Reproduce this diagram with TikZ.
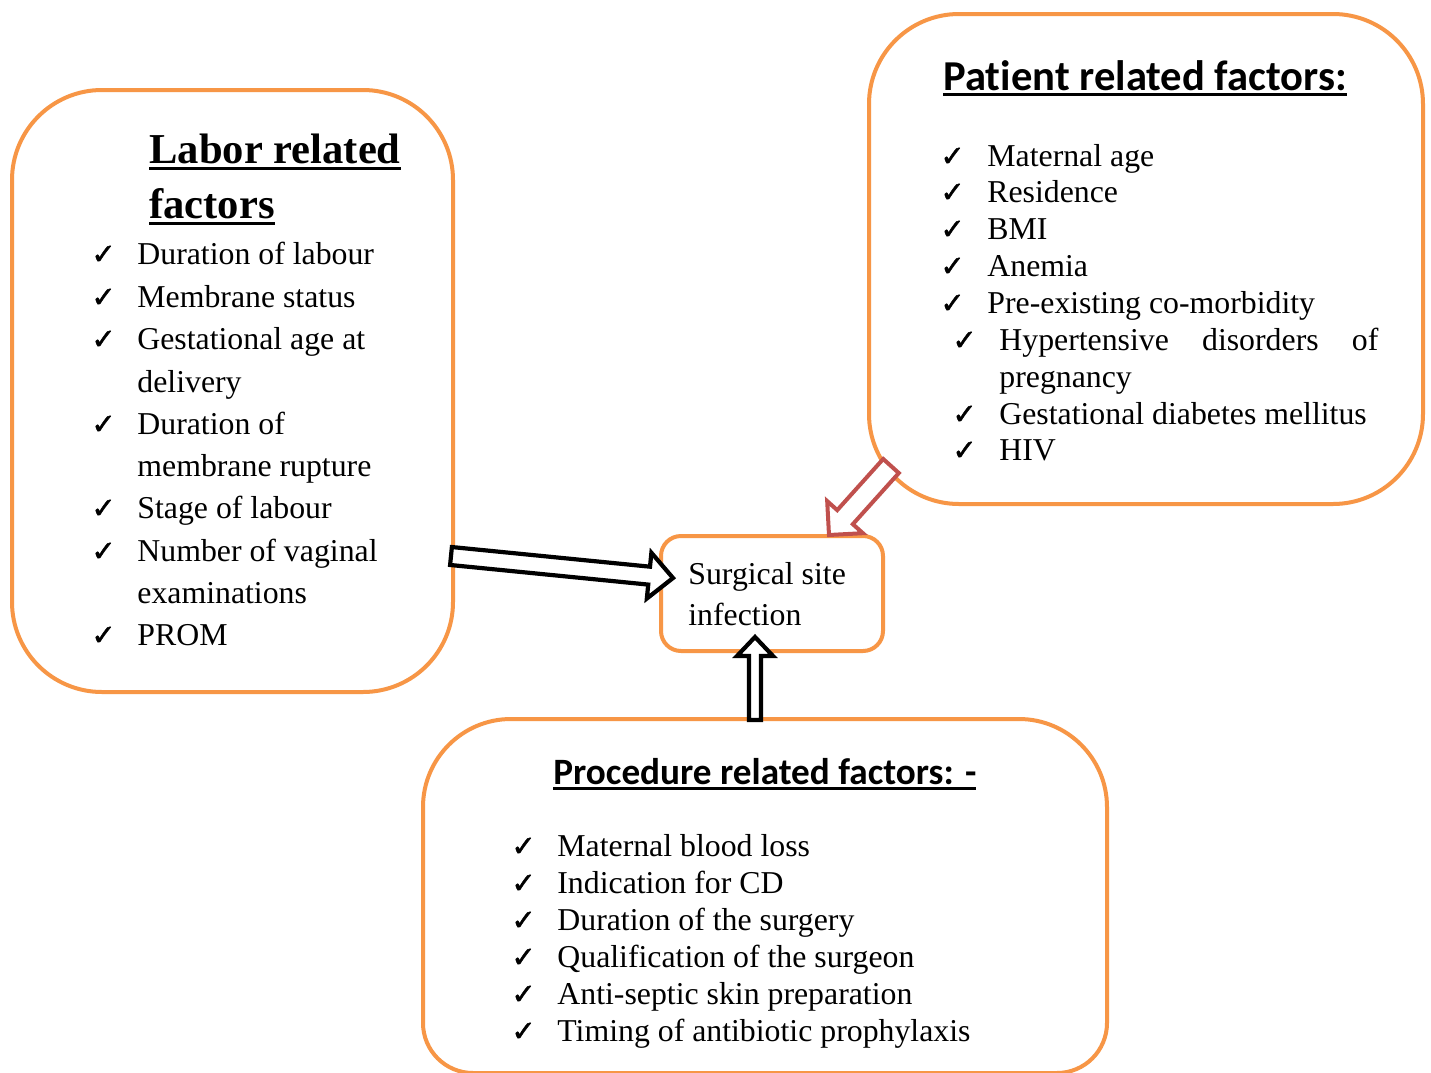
\documentclass[tikz,border=0pt]{standalone}
\usepackage{fontspec}
\setmainfont{Liberation Serif}
\newfontfamily\calibri[Ligatures=NoCommon]{Carlito}
\newfontfamily\dejavuchk[FakeBold=1.6]{DejaVu Sans}
\usetikzlibrary{calc}
\definecolor{boxorange}{HTML}{F79646}
\definecolor{arrred}{HTML}{C0504D}
\newcommand\hul[2]{\setbox0\hbox{#2}\rlap{\rule[-#1]{\wd0}{1.5pt}}\box0}
\newcommand\chkitem[5]{%
  \node[txt] (#1c) at (#2,#4) {\dejavuchk\fontsize{14.5pt}{16pt}\selectfont ✓};
  \node[txt] (#1) at (#3,#4) {#5};}
% block arrow: style, from, to, shaft half width, head half width, head length
\newcommand\blockarr[6]{%
  \coordinate (tmpS) at ($(#3)!#6!(#2)$);
  \draw[#1] ($(#2)!#4!90:(#3)$) -- ($(tmpS)!#4!90:(#3)$) -- ($(tmpS)!#5!90:(#3)$)
    -- (#3) -- ($(tmpS)!#5!-90:(#3)$) -- ($(tmpS)!#4!-90:(#3)$)
    -- ($(#2)!#4!-90:(#3)$) -- cycle;}
\begin{document}
\begin{tikzpicture}[x=0.5pt,y=-0.5pt,
  box/.style={draw=boxorange, line width=2pt, rounded corners=45pt, rectangle, inner sep=0},
  boxline/.style={draw=boxorange, line width=2pt},
  txt/.style={anchor=base west, inner sep=0, font=\fontsize{15.9pt}{19pt}\selectfont},
  blk/.style={draw=black, fill=white, line width=2.1pt, line join=miter},
  redblk/.style={draw=arrred, fill=white, line width=2pt, line join=miter}]
\clip (0,0) rectangle (1431,1072);
\fill[white] (0,0) rectangle (1431,1072);
% boxes
\node[box, minimum width=220.5pt, minimum height=301pt] (labor) at (232.5,391) {};
\node[box, minimum width=277pt, minimum height=245pt] (patient) at (1146,259) {};
\node[inner sep=0, minimum width=342pt, minimum height=177pt] (proc) at (765,896) {};
\draw[boxline] (511,719) -- (1019,719)
  .. controls (1067.4,719) and (1107,758.4) .. (1107,807)
  -- (1107,1023) .. controls (1107,1050.6) and (1084.6,1073) .. (1057,1073)
  -- (473,1073) .. controls (445.4,1073) and (423,1050.6) .. (423,1023)
  -- (423,807) .. controls (423,758.4) and (462.6,719) .. (511,719) -- cycle;
\node[box, rounded corners=10pt, minimum width=111pt, minimum height=57.5pt] (ssi) at (772,593.5) {};
% center text
\node[txt] (ssi1) at (688,584) {Surgical site};
\node[txt] (ssi2) at (688,625) {infection};
% labor heading
\node[txt, font=\bfseries\fontsize{21.3pt}{25pt}\selectfont] (lh1) at (149,163) {\hul{3.5pt}{Labor related}};
\node[txt, font=\bfseries\fontsize{21.3pt}{25pt}\selectfont] (lh2) at (149,218) {\hul{3.5pt}{factors}};
\chkitem{l1}{91}{137}{264}{Duration of labour}
\chkitem{l2}{91}{137}{307}{Membrane status}
\chkitem{l3}{91}{137}{349}{Gestational age at}
\node[txt] (l3b) at (137,392) {delivery};
\chkitem{l4}{91}{137}{434}{Duration of}
\node[txt] (l4b) at (137,476) {membrane rupture};
\chkitem{l5}{91}{137}{518}{Stage of labour}
\chkitem{l6}{91}{137}{561}{Number of vaginal}
\node[txt] (l6b) at (137,603) {examinations};
\chkitem{l7}{91}{137}{645}{PROM}
% patient
\node[txt, font=\calibri\bfseries\fontsize{21.3pt}{25pt}\selectfont] (ph) at (943,90) {\hul{3pt}{Patient related factors:}};
\chkitem{p1}{940}{987}{166}{Maternal age}
\chkitem{p2}{940}{987}{202}{Residence}
\chkitem{p3}{940}{987}{239}{BMI}
\chkitem{p4}{940}{987}{276}{Anemia}
\chkitem{p5}{940}{987}{313}{Pre-existing co-morbidity}
\chkitem{p6}{952}{999}{350}{\hbox to 189.5pt{Hypertensive\hfill disorders\hfill of}}
\node[txt] (p6b) at (999,387) {pregnancy};
\chkitem{p7}{952}{999}{424}{Gestational diabetes mellitus}
\chkitem{p8}{952}{999}{460}{HIV}
% procedure
\node[txt, font=\calibri\bfseries\fontsize{18.6pt}{22pt}\selectfont] (prh) at (553,784) {\hul{3pt}{Procedure related factors: -}};
\chkitem{r1}{511}{557}{856}{Maternal blood loss}
\chkitem{r2}{511}{557}{893}{Indication for CD}
\chkitem{r3}{511}{557}{930}{Duration of the surgery}
\chkitem{r4}{511}{557}{967}{Qualification of the surgeon}
\chkitem{r5}{511}{557}{1004}{Anti-septic skin preparation}
\chkitem{r6}{511}{557}{1041}{Timing of antibiotic prophylaxis}
% arrows
\coordinate (la1) at (451,556);
\coordinate (la2) at (673,578);
\blockarr{blk}{la1}{la2}{4.5pt}{11.5pt}{12pt}
\coordinate (pa1) at (891,466);
\coordinate (pa2) at (829,535);
\blockarr{redblk}{pa1}{pa2}{5.25pt}{12pt}{12pt}
\coordinate (ra1) at (755,720);
\coordinate (ra2) at (755,637);
\blockarr{blk}{ra1}{ra2}{3pt}{9pt}{9.5pt}
\end{tikzpicture}
\end{document}
